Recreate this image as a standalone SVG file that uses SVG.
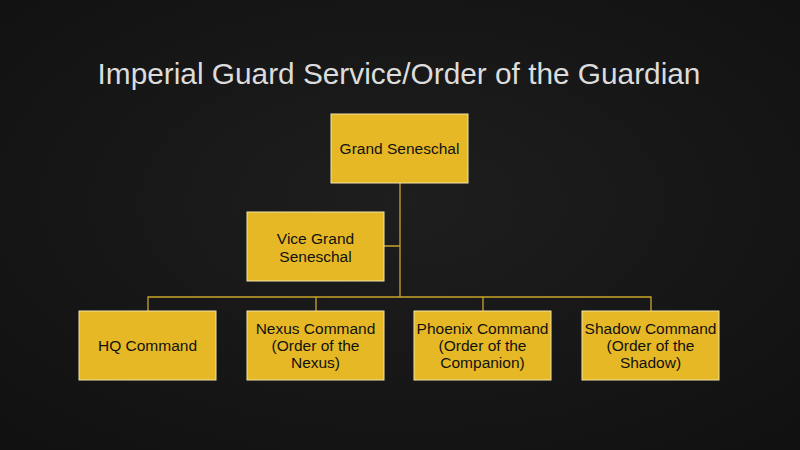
<svg xmlns="http://www.w3.org/2000/svg" width="800" height="450" viewBox="0 0 800 450">
<defs>
<radialGradient id="bg" cx="50%" cy="45%" r="70%"><stop offset="0" stop-color="#1e1e1e"/><stop offset="1" stop-color="#111"/></radialGradient>
<style>
.box{fill:#E6B825;stroke:#f3e3a8;stroke-width:1}
.t{font-family:"Liberation Sans",Arial,sans-serif;font-size:15.5px;fill:#111;text-anchor:middle}
.c{stroke:#C9A42A;stroke-width:1.3;fill:none}
</style>
</defs>
<rect width="800" height="450" fill="url(#bg)"/>
<text x="399" y="84" font-family="Liberation Sans,Arial,sans-serif" font-size="29.8" fill="#dcdcdc" text-anchor="middle">Imperial Guard Service/Order of the Guardian</text>
<g id="connectors">
<path class="c" d="M400 183V297M148 311V297H651V311M316 297V311M483 297V311M384 246H400"/>
</g>
<g id="grand"><rect class="box" x="331" y="114" width="137" height="69"/><text class="t" x="399.5" y="154">Grand Seneschal</text></g>
<g id="vice"><rect class="box" x="247" y="212" width="137" height="69"/><text class="t" x="315.5" y="244">Vice Grand</text><text class="t" x="315.5" y="262">Seneschal</text></g>
<g id="hq"><rect class="box" x="79" y="311" width="137" height="69"/><text class="t" x="147.5" y="351">HQ Command</text></g>
<g id="nexus"><rect class="box" x="247" y="311" width="137" height="69"/><text class="t" x="315.5" y="334">Nexus Command</text><text class="t" x="315.5" y="351">(Order of the</text><text class="t" x="315.5" y="368">Nexus)</text></g>
<g id="phoenix"><rect class="box" x="414" y="311" width="137" height="69"/><text class="t" x="482.5" y="334">Phoenix Command</text><text class="t" x="482.5" y="351">(Order of the</text><text class="t" x="482.5" y="368">Companion)</text></g>
<g id="shadow"><rect class="box" x="582" y="311" width="137" height="69"/><text class="t" x="650.5" y="334">Shadow Command</text><text class="t" x="650.5" y="351">(Order of the</text><text class="t" x="650.5" y="368">Shadow)</text></g>
</svg>
